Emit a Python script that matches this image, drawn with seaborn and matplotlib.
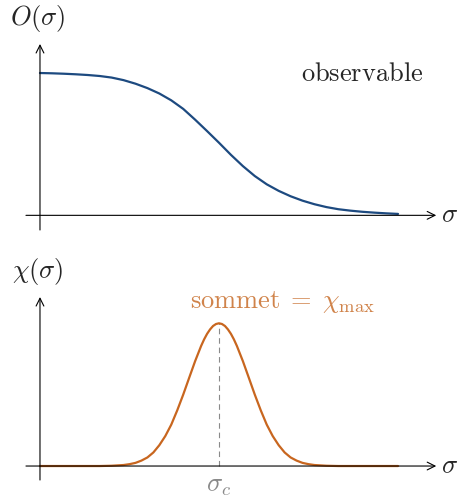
import matplotlib
matplotlib.use("Agg")
import matplotlib.pyplot as plt
import seaborn as sns

# courbe du haut : observable O(sigma)
sigma_obs = [0.0, 0.2, 0.4, 0.6, 0.8, 1.0, 1.2, 1.4, 1.6, 1.8, 2.0, 2.2, 2.4, 2.6,
             2.8, 3.0, 3.2, 3.4, 3.6, 3.8, 4.0, 4.2, 4.4, 4.6, 4.8, 5.0, 5.2,
             5.4, 5.6, 5.8, 6.0]
obs_vals = [1.000, 0.998, 0.995, 0.991, 0.986, 0.979, 0.968, 0.950, 0.925, 0.894,
            0.856, 0.808, 0.748, 0.672, 0.592, 0.510, 0.425, 0.346, 0.276, 0.218,
            0.172, 0.134, 0.103, 0.078, 0.058, 0.043, 0.033, 0.025, 0.019, 0.014,
            0.010]

# courbe du bas : susceptibilite chi(sigma)
sigma_chi = [0.0, 1.0, 1.2, 1.4, 1.5, 1.6, 1.7, 1.8, 1.9, 2.0, 2.1, 2.2, 2.3, 2.4,
             2.5, 2.6, 2.7, 2.75, 2.8, 2.85, 2.9, 2.95, 3.0, 3.05, 3.1, 3.15, 3.2,
             3.25, 3.3, 3.4, 3.5, 3.6, 3.7, 3.8, 3.9, 4.0, 4.1, 4.2, 4.3, 4.4,
             4.5, 4.6, 4.8, 5.0, 6.0]
chi_vals = [0.0, 0.0, 0.002, 0.007, 0.013, 0.022, 0.038, 0.06, 0.095, 0.146, 0.21,
            0.29, 0.39, 0.50, 0.618, 0.735, 0.841, 0.887, 0.926, 0.957, 0.981, 0.995,
            1.0, 0.995, 0.981, 0.957, 0.926, 0.887, 0.841, 0.735, 0.618, 0.50, 0.39,
            0.29, 0.21, 0.146, 0.095, 0.06, 0.038, 0.022, 0.013, 0.007, 0.002, 0.0,
            0.0]
sigma_c = 3.0
chi_max = 1.0

blue = "#1d4a80"
orange = "#c8661f"
orange_txt = "#d0834a"
grey = "#8a8a8a"

sns.set_style("white")
plt.rcParams["mathtext.fontset"] = "cm"
fs = 19

fig = plt.figure(figsize=(4.58, 4.97), dpi=100)
ax1 = fig.add_axes([0, 0.5, 1, 0.5])
ax2 = fig.add_axes([0, 0, 1, 0.5])

arrow = dict(arrowstyle="->", color="black", lw=0.8, shrinkA=0, shrinkB=0,
             mutation_scale=14)

for ax, ylo, yhi, ybot, ytop in [(ax1, -0.233, 1.513, -0.103, 1.204),
                                 (ax2, -0.217, 1.524, -0.098, 1.184)]:
    ax.set_xlim(-0.670, 7.005)
    ax.set_ylim(ylo, yhi)
    ax.axis("off")
    ax.annotate("", xy=(6.64, 0), xytext=(-0.235, 0), arrowprops=arrow)
    ax.annotate("", xy=(0, ytop), xytext=(0, ybot), arrowprops=arrow)
    ax.text(6.72, 0, r"$\sigma$", fontsize=fs, ha="left", va="center")

# haut
sns.lineplot(x=sigma_obs, y=obs_vals, ax=ax1, color=blue, lw=1.6)
ax1.text(-0.034, 1.386, r"$O(\sigma)$", fontsize=fs, ha="center", va="center")
ax1.text(5.40, 0.99, r"$\mathrm{observable}$", fontsize=fs, ha="center", va="center")

# bas
ax2.plot([sigma_c, sigma_c], [0, chi_max], color=grey, lw=0.8, ls=(0, (5, 3.5)))
sns.lineplot(x=sigma_chi, y=chi_vals, ax=ax2, color=orange, lw=1.6)
ax2.text(-0.034, 1.36, r"$\chi(\sigma)$", fontsize=fs, ha="center", va="center")
ax2.text(4.056, 1.149, r"$\mathrm{sommet}\;=\;\chi_{\max}$", fontsize=fs,
         color=orange_txt, ha="center", va="center")
ax2.text(sigma_c, -0.135, r"$\sigma_c$", fontsize=fs, color=grey,
         ha="center", va="center")

fig.savefig("out.png", dpi=100)
